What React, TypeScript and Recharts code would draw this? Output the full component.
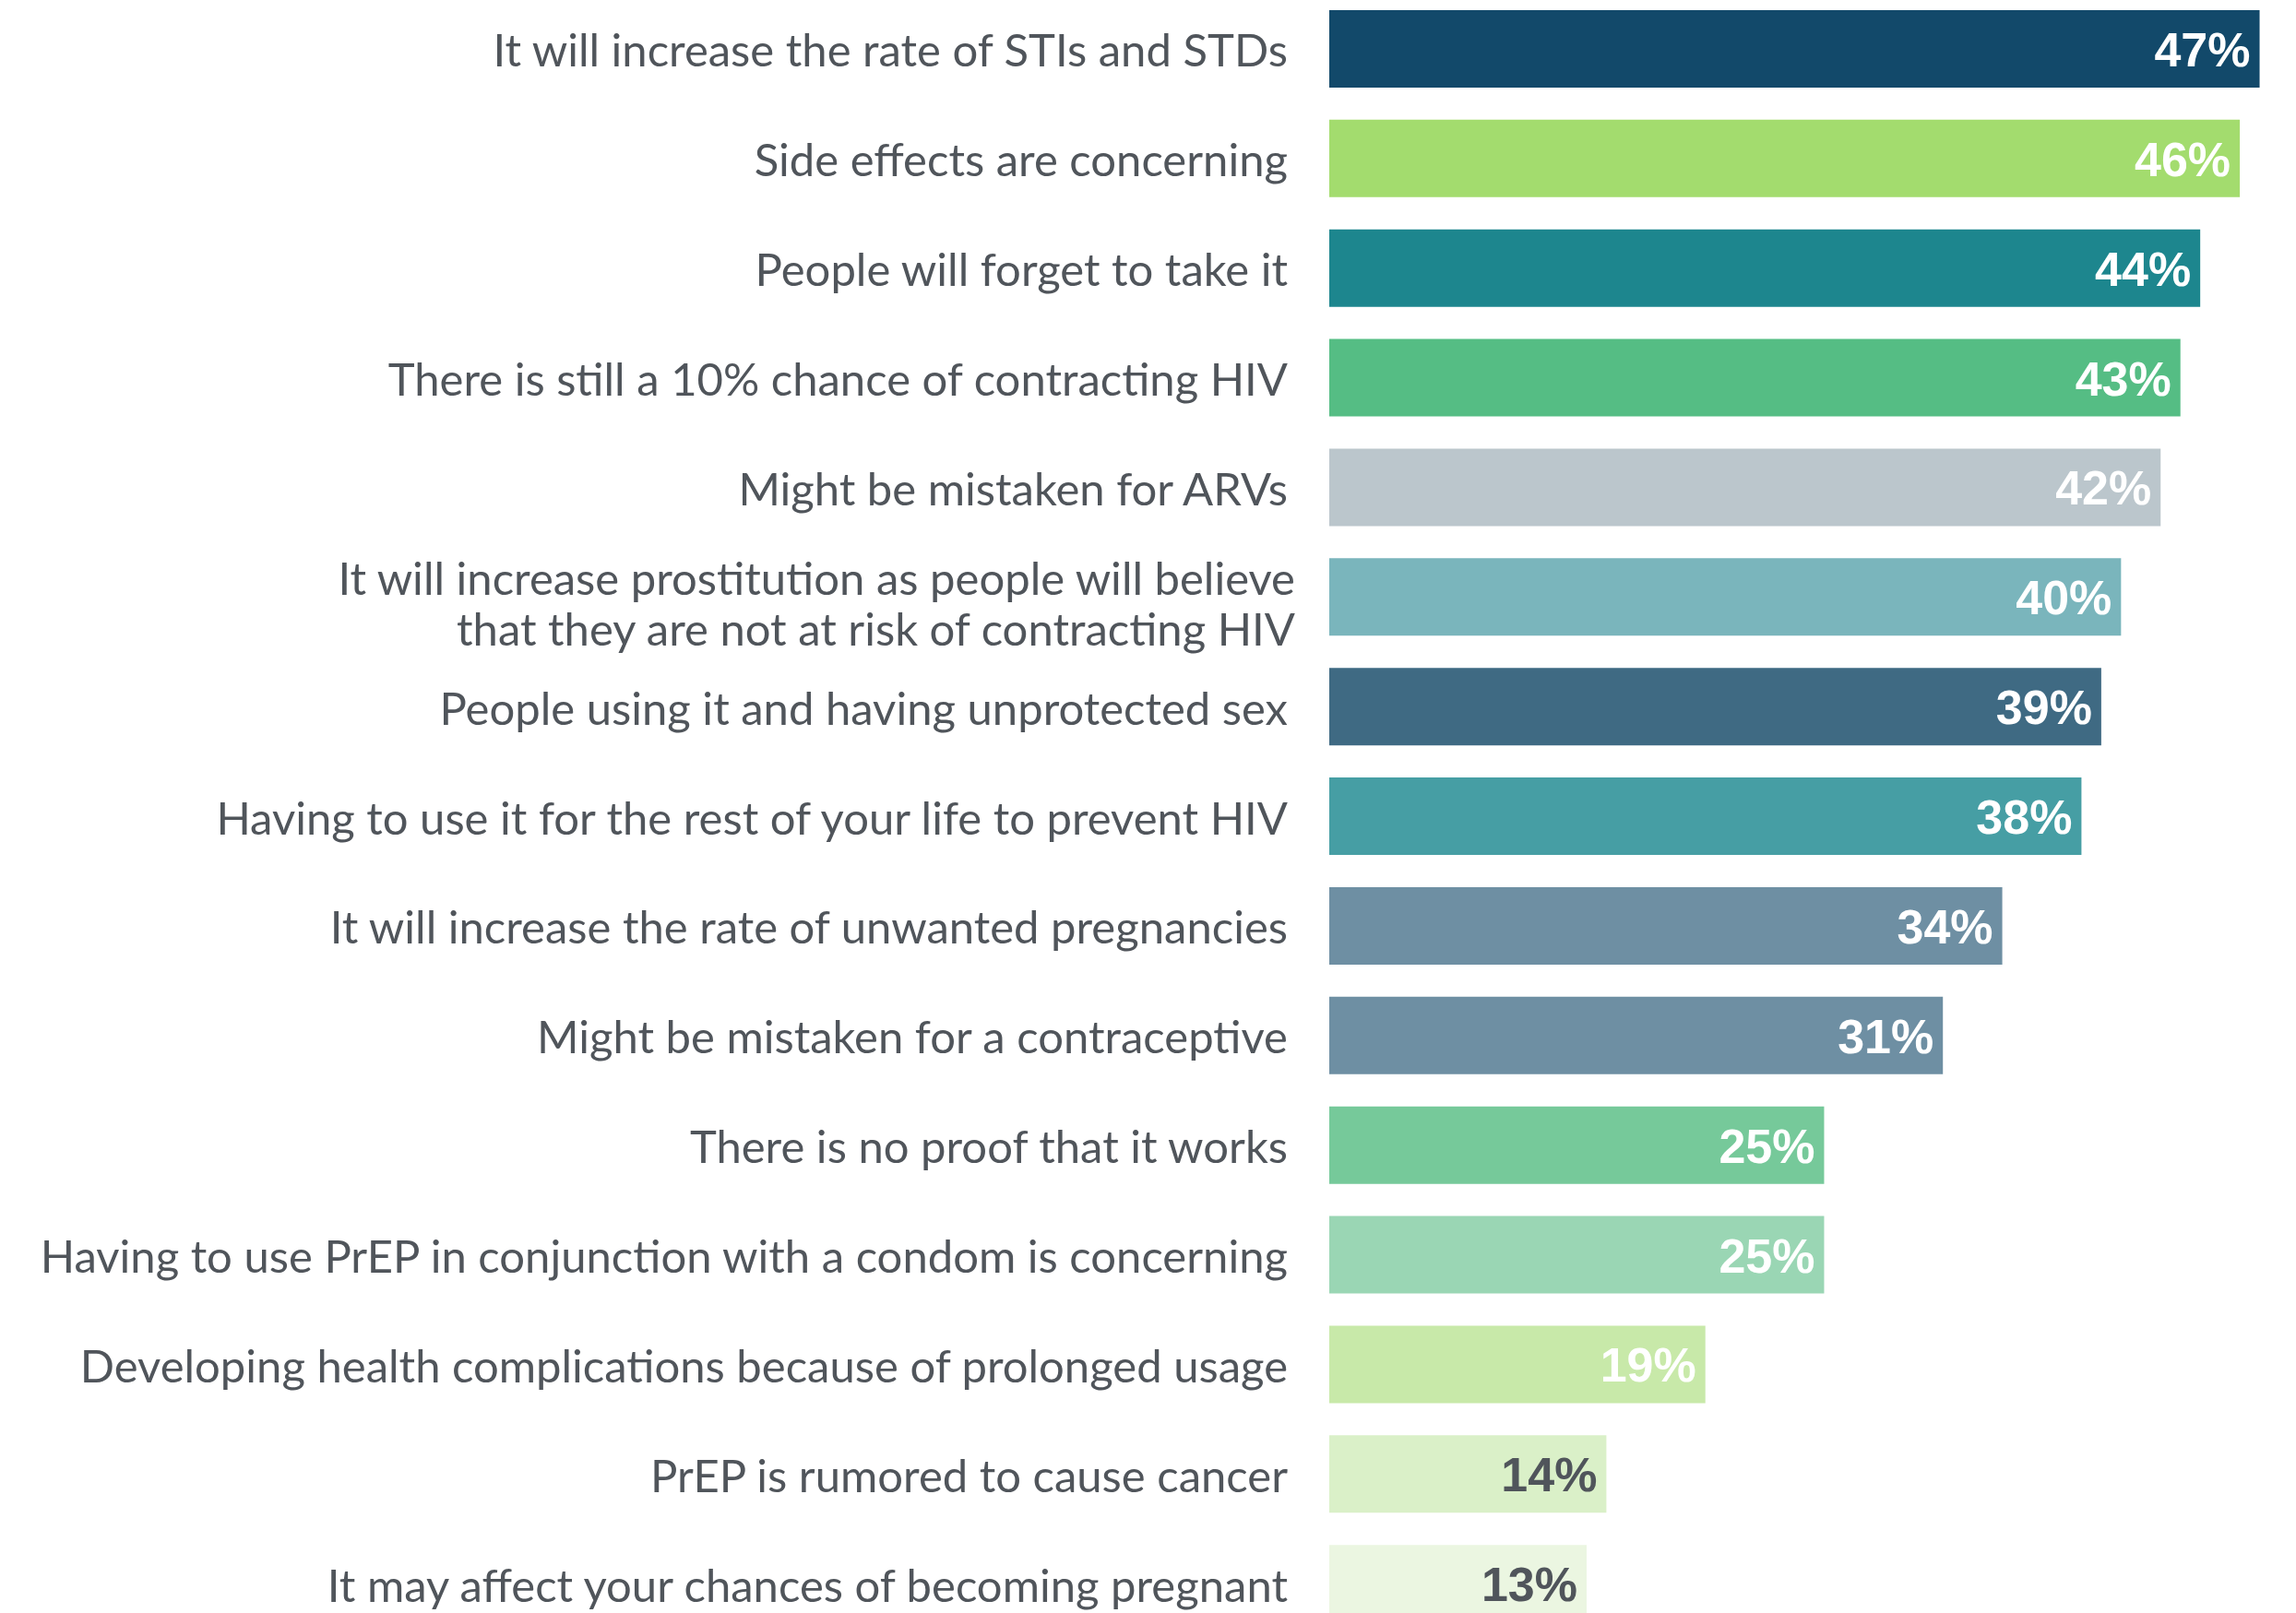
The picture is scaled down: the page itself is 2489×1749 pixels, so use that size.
import { BarChart, Bar, XAxis, YAxis, LabelList, Cell } from "recharts";

const concerns = [
  "It will increase the rate of STIs and STDs",
  "Side effects are concerning",
  "People will forget to take it",
  "There is still a 10% chance of contracting HIV",
  "Might be mistaken for ARVs",
  "It will increase prostitution as people will believe\nthat they are not at risk of contracting HIV",
  "People using it and having unprotected sex",
  "Having to use it for the rest of your life to prevent HIV",
  "It will increase the rate of unwanted pregnancies",
  "Might be mistaken for a contraceptive",
  "There is no proof that it works",
  "Having to use PrEP in conjunction with a condom is concerning",
  "Developing health complications because of prolonged usage",
  "PrEP is rumored to cause cancer",
  "It may affect your chances of becoming pregnant",
];

const shares = [47, 46, 44, 43, 42, 40, 39, 38, 34, 31, 25, 25, 19, 14, 13];

const barColors = [
  "#12496a", "#a3dc6e", "#1d868e", "#55bd84", "#bbc6cc",
  "#7ab5bc", "#3f6a83", "#469ea4", "#6e8fa3", "#6e8fa3",
  "#76c99a", "#9ad6b4", "#c8e9a9", "#daf0c8", "#ebf6e1",
];

const darkLabelBelow = 15;

const TEXT_GREY = "#50555b";

const chartData = concerns.map((name, i) => ({ name, value: shares[i], color: barColors[i] }));

const ConcernTick = ({ x, y, payload }: any) => {
  const lines = String(payload.value).split("\n");
  const multi = lines.length > 1;
  const start = multi ? -3 : 19;
  const tx = multi ? x + 8 : x;
  return (
    <text
      x={tx}
      y={y}
      textAnchor="end"
      fill={TEXT_GREY}
      fontFamily="Lato, 'Open Sans', sans-serif"
      fontSize={49}
    >
      {lines.map((line, i) => (
        <tspan key={i} x={tx} dy={i === 0 ? start : 55}>
          {line}
        </tspan>
      ))}
    </text>
  );
};

const ValueLabel = ({ x, y, width, height, value }: any) => {
  const light = value >= darkLabelBelow;
  return (
    <text
      x={x + width - 10}
      y={y + height / 2 + 19}
      textAnchor="end"
      fill={light ? "#ffffff" : TEXT_GREY}
      fontFamily="'Liberation Sans', Arial, sans-serif"
      fontWeight="bold"
      fontSize={52}
    >
      {`${value}%`}
    </text>
  );
};

export default function App() {
  return (
    <div style={{ position: "absolute", left: 0, top: 0, width: 2489, height: 1749, overflow: "hidden", background: "#fff" }}>
      <div style={{ marginTop: -6 }}>
        <BarChart
          width={2489}
          height={1783}
          data={chartData}
          layout="vertical"
          margin={{ top: 0, right: 18, bottom: 0, left: 0 }}
        >
          <XAxis type="number" domain={[0, 48]} hide />
          <YAxis
            type="category"
            dataKey="name"
            width={1441}
            axisLine={false}
            tickLine={false}
            tickSize={0}
            tickMargin={45}
            interval={0}
            tick={<ConcernTick />}
          />
          <Bar dataKey="value" barSize={84} isAnimationActive={false}>
            {chartData.map((d, i) => (
              <Cell key={i} fill={d.color} />
            ))}
            <LabelList dataKey="value" content={<ValueLabel />} />
          </Bar>
        </BarChart>
      </div>
    </div>
  );
}
